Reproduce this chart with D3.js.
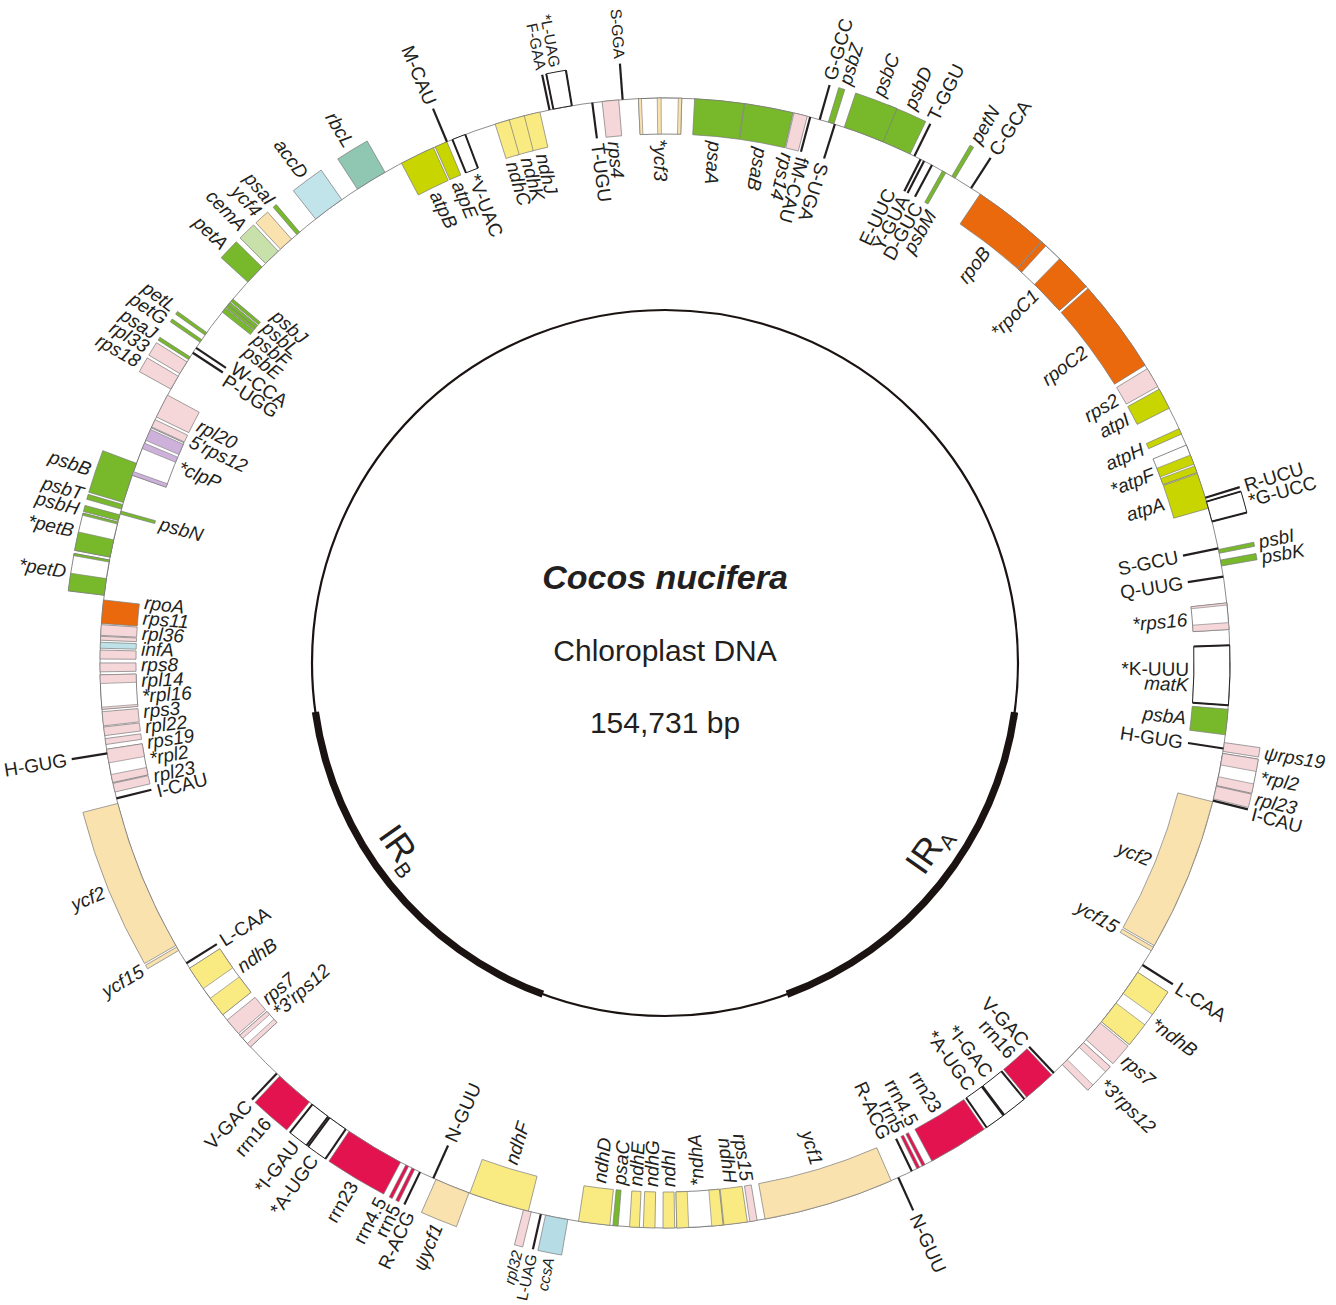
<!DOCTYPE html>
<html>
<head>
<meta charset="utf-8">
<script src="https://cdn.jsdelivr.net/npm/d3@7"></script>
<style>
  html, body { margin: 0; padding: 0; background: #ffffff; }
  svg { display: block; }
  text { font-family: "Liberation Sans", Arial, Helvetica, sans-serif; fill: #231f20; }
</style>
</head>
<body>
<svg id="map" width="1336" height="1305"></svg>
<script>
// ---------------------------------------------------------------
// Cocos nucifera chloroplast genome (154,731 bp), positions in kb
// ---------------------------------------------------------------
const GENOME_KB = 154.731;

const regionNames   = ["LSC", "IRB", "SSC", "IRA"];
const regionLengths = [84.230, 26.555, 17.391, 26.555];

const titleLines = ["Cocos nucifera", "Chloroplast DNA", "154,731 bp"];

// [label, start, end, side ("out" = outer ring, "in" = inner ring), functional group, exons?]
const proteinGenes = [
  ["psbA", 0.30, 1.42, "in", "ps"],
  ["matK", 1.89, 3.44, "in", "rib"],
  ["*rps16", 4.90, 6.06, "in", "rib", [[4.90, 5.20], [5.97, 6.06]]],
  ["psbK", 7.69, 7.95, "out", "ps"],
  ["psbI", 8.25, 8.42, "out", "ps"],
  ["atpA", 10.27, 11.86, "in", "atp"],
  ["*atpF", 11.91, 13.19, "in", "atp", [[11.91, 12.21], [12.29, 12.72]]],
  ["atpH", 13.71, 13.97, "in", "atp"],
  ["atpI", 14.96, 15.90, "in", "atp"],
  ["rps2", 16.03, 16.93, "in", "rib"],
  ["rpoC2", 17.11, 21.28, "in", "rpo"],
  ["*rpoC1", 21.40, 24.15, "in", "rpo", [[21.40, 23.08], [23.90, 24.15]]],
  ["rpoB", 24.18, 27.55, "in", "rpo"],
  ["petN", 28.84, 29.01, "out", "ps"],
  ["psbM", 29.31, 29.48, "in", "ps"],
  ["psbD", 31.07, 32.75, "out", "ps"],
  ["psbC", 32.36, 34.17, "out", "ps"],
  ["psbZ", 34.64, 34.90, "out", "ps"],
  ["rps14", 35.85, 36.45, "in", "rib"],
  ["psaB", 36.49, 38.64, "in", "ps"],
  ["psaA", 38.66, 40.83, "in", "ps"],
  ["*ycf3", 41.39, 43.28, "in", "ycf", [[41.39, 41.54], [42.29, 42.46], [43.15, 43.28]]],
  ["rps4", 44.14, 44.87, "in", "rib"],
  ["ndhJ", 47.62, 48.40, "in", "ndh"],
  ["ndhK", 48.32, 49.12, "in", "ndh"],
  ["ndhC", 49.00, 49.64, "in", "ndh"],
  ["atpE", 51.88, 52.44, "in", "atp"],
  ["atpB", 52.52, 54.07, "in", "atp"],
  ["rbcL", 54.89, 56.30, "out", "rbc"],
  ["accD", 57.12, 58.54, "out", "acc"],
  ["psaI", 59.44, 59.61, "out", "ps"],
  ["ycf4", 59.91, 60.56, "out", "ycf"],
  ["cemA", 60.69, 61.46, "out", "cem"],
  ["petA", 61.68, 62.58, "out", "ps"],
  ["psbJ", 63.57, 63.70, "in", "ps"],
  ["psbL", 63.78, 63.87, "in", "ps"],
  ["psbF", 63.91, 64.04, "in", "ps"],
  ["psbE", 64.08, 64.30, "in", "ps"],
  ["petL", 65.42, 65.55, "out", "ps"],
  ["petG", 65.80, 65.93, "out", "ps"],
  ["psaJ", 66.71, 66.83, "out", "ps"],
  ["rpl33", 66.96, 67.56, "out", "rib"],
  ["rps18", 67.69, 68.34, "out", "rib"],
  ["rpl20", 68.64, 69.71, "in", "rib"],
  ["5'rps12", 69.84, 70.19, "in", "rib"],
  ["*clpP", 70.23, 72.46, "in", "clp", [[70.31, 70.83], [70.96, 71.22], [72.29, 72.46]]],
  ["psbB", 71.91, 73.71, "out", "ps"],
  ["psbT", 73.80, 74.01, "out", "ps"],
  ["psbN", 74.10, 74.23, "in", "ps"],
  ["psbH", 74.27, 74.53, "out", "ps"],
  ["*petB", 74.60, 76.16, "out", "ps", [[74.60, 74.68], [75.39, 76.16]]],
  ["*petD", 76.29, 77.84, "out", "ps", [[76.29, 76.38], [77.11, 77.84]]],
  ["rpoA", 78.05, 79.08, "in", "rpo"],
  ["rps11", 79.13, 79.60, "in", "rib"],
  ["rpl36", 79.64, 79.81, "in", "rib"],
  ["infA", 79.90, 80.16, "in", "inf"],
  ["rps8", 80.24, 80.63, "in", "rib"],
  ["rpl14", 80.80, 81.19, "in", "rib"],
  ["*rpl16", 81.32, 82.82, "in", "rib", [[81.32, 81.70], [82.74, 82.82]]],
  ["rps3", 82.93, 83.55, "in", "rib"],
  ["rpl22", 83.60, 83.98, "in", "rib"],
  ["rps19", 84.11, 84.37, "in", "rib"],
  ["*rpl2", 84.58, 86.05, "in", "rib", [[84.58, 85.18], [85.70, 86.05]]],
  ["rpl23", 86.09, 86.48, "in", "rib"],
  ["ycf2", 86.99, 93.70, "out", "ycf"],
  ["ycf15", 93.78, 93.95, "out", "ycf"],
  ["ndhB", 94.86, 97.35, "in", "ndh", [[94.86, 95.93], [96.45, 97.35]]],
  ["rps7", 97.65, 98.42, "in", "rib"],
  ["*3'rps12", 98.51, 99.20, "in", "rib", [[98.51, 98.70], [99.00, 99.20]]],
  ["ψycf1", 109.21, 110.76, "out", "ycf"],
  ["ndhF", 110.80, 113.47, "in", "ndh"],
  ["rpl32", 113.25, 113.60, "out", "rib"],
  ["ccsA", 114.24, 115.23, "out", "ccs"],
  ["ndhD", 115.70, 117.08, "in", "ndh"],
  ["psaC", 117.21, 117.44, "in", "ps"],
  ["ndhE", 117.94, 118.37, "in", "ndh"],
  ["ndhG", 118.54, 119.05, "in", "ndh"],
  ["ndhI", 119.40, 119.91, "in", "ndh"],
  ["*ndhA", 120.00, 122.02, "in", "ndh", [[120.00, 120.52], [121.53, 122.02]]],
  ["ndhH", 122.06, 123.09, "in", "ndh"],
  ["rps15", 123.20, 123.52, "in", "rib"],
  ["ycf1", 123.87, 129.63, "in", "ycf"],
  ["*3'rps12", 138.70, 140.03, "out", "rib", [[138.70, 139.00], [139.75, 140.03]]],
  ["rps7", 140.20, 141.15, "out", "rib"],
  ["*ndhB", 141.23, 143.90, "out", "ndh", [[141.23, 142.26], [142.78, 143.90]]],
  ["ycf15", 145.01, 145.19, "in", "ycf"],
  ["ycf2", 145.27, 152.06, "in", "ycf"],
  ["rpl23", 152.19, 152.75, "out", "rib"],
  ["*rpl2", 152.79, 154.21, "out", "rib", [[152.79, 153.18], [153.70, 154.21]]],
  ["ψrps19", 154.30, 154.69, "out", "rib"]
];

// ribosomal RNA genes: [label, start, end, side]
const rrnGenes = [
  ["rrn16", 101.00, 102.72, "out"],
  ["rrn23", 104.87, 107.49, "out"],
  ["rrn4.5", 107.75, 107.88, "out"],
  ["rrn5", 108.05, 108.18, "out"],
  ["rrn5", 130.87, 131.00, "in"],
  ["rrn4.5", 131.13, 131.26, "in"],
  ["rrn23", 131.60, 134.27, "in"],
  ["rrn16", 136.59, 138.05, "in"]
];

// transfer RNA genes without introns: [label, position, side]
const tRNAs = [
  ["Q-UUG", 7.22, "in"], ["S-GCU", 8.47, "in"], ["R-UCU", 10.75, "out"],
  ["C-GCA", 28.02, "out"], ["D-GUC", 30.00, "in"], ["Y-GUA", 30.39, "in"],
  ["E-UUC", 30.56, "in"], ["T-GGU", 30.86, "out"], ["S-UGA", 34.60, "in"],
  ["G-GCC", 35.29, "out"], ["fM-CAU", 35.72, "in"], ["S-GGA", 43.97, "out"],
  ["T-UGU", 45.30, "in"], ["F-GAA", 47.19, "out"], ["M-CAU", 51.88, "out"],
  ["W-CCA", 66.23, "in"], ["P-UGG", 66.49, "in"], ["H-GUG", 84.76, "out"],
  ["I-CAU", 86.76, "in"], ["L-CAA", 94.60, "in"], ["V-GAC", 100.83, "out"],
  ["R-ACG", 108.44, "out"], ["N-GUU", 109.08, "in"], ["L-UAG", 114.03, "out"],
  ["N-GUU", 129.97, "out"], ["R-ACG", 130.62, "in"], ["V-GAC", 138.18, "in"],
  ["L-CAA", 144.28, "out"], ["I-CAU", 152.11, "out"], ["H-GUG", 154.43, "in"]
];

// transfer RNA genes with introns: [label, start, end, side]
const splitTRNAs = [
  ["*K-UUU", 1.59, 4.21, "in"],
  ["*G-UCC", 9.67, 10.57, "out"],
  ["*L-UAG", 46.20, 47.02, "out"],
  ["*V-UAC", 51.02, 51.62, "in"],
  ["*I-GAU", 102.89, 103.75, "out"],
  ["*A-UGC", 103.83, 104.70, "out"],
  ["*A-UGC", 134.40, 135.30, "in"],
  ["*I-GAC", 135.34, 136.46, "in"]
];

// ---------------------------------------------------------------
// Styling
// ---------------------------------------------------------------
const groupColors = {
  ps:  "#78b92b",
  atp: "#c8d500",
  ndh: "#faea82",
  rpo: "#ea690c",
  rib: "#f5d6d9",
  ycf: "#f9e2ad",
  rbc: "#8fc7b3",
  acc: "#c1e3ea",
  cem: "#c8e0aa",
  clp: "#cdb1da",
  inf: "#bfe2e8",
  ccs: "#b6dde6",
  rrn: "#e3134f"
};

// outer labels set in a smaller type where they run towards the page edge
const compactLabels = new Set(["rpl32", "L-UAG", "ccsA", "S-GGA", "F-GAA", "*L-UAG"]);

const W = 1336, H = 1305;
const CX = 665, CY = 663;
const R_RING = 565, DEPTH = 36, R_INNER = 353;
const LABEL_GAP = 5, FONT = 19, FONT_SMALL = 15.5;
const ORIGIN_DEG = 98;   // angular position of base 1, genome runs anticlockwise

const svg = d3.select("#map");
svg.append("rect").attr("width", W).attr("height", H).attr("fill", "#fff");
const g = svg.append("g").attr("transform", `translate(${CX},${CY})`);

const rad = d => d * Math.PI / 180;
const deg = r => r * 180 / Math.PI;
const theta = d3.scaleLinear()
  .domain([0, GENOME_KB])
  .range([rad(ORIGIN_DEG), rad(ORIGIN_DEG - 360)]);

const norm = a => ((a % 360) + 360) % 360;

function radii(side) {
  return side === "out" ? [R_RING, R_RING + DEPTH] : [R_RING - DEPTH, R_RING];
}

// keeps very short features visible as thin bars
function span(start, end, minDeg = 0.32) {
  let a0 = theta(start), a1 = theta(end);
  const w = Math.abs(a1 - a0), min = rad(minDeg);
  if (w < min) {
    const m = (a0 + a1) / 2, s = a1 < a0 ? -1 : 1;
    a0 = m - s * min / 2; a1 = m + s * min / 2;
  }
  return [a0, a1];
}

const arcGen = d3.arc();
function boxPath(start, end, side, minDeg) {
  const [r0, r1] = radii(side);
  const [a0, a1] = span(start, end, minDeg);
  return arcGen({ innerRadius: r0, outerRadius: r1, startAngle: a0, endAngle: a1 });
}

// ---------------------------------------------------------------
// Inner circle with the inverted repeats
// ---------------------------------------------------------------
g.append("circle").attr("r", R_INNER)
  .attr("fill", "none").attr("stroke", "#1a1311").attr("stroke-width", 2.2);

const regionStarts = d3.cumsum([0, ...regionLengths.slice(0, -1)]);
const regions = regionNames.map((name, i) => ({
  name, start: regionStarts[i], end: regionStarts[i] + regionLengths[i]
}));

const irArc = d3.arc().innerRadius(R_INNER - 3.6).outerRadius(R_INNER + 3.6);
g.selectAll("path.ir")
  .data(regions.filter(r => r.name.startsWith("IR")))
  .join("path")
  .attr("class", "ir")
  .attr("fill", "#1a1311")
  .attr("d", r => irArc({ startAngle: theta(r.start), endAngle: theta(r.end) }));

regions.filter(r => r.name.startsWith("IR")).forEach(r => {
  const midDeg = deg(theta((r.start + r.end) / 2));
  const a = norm(midDeg + (norm(midDeg) > 180 ? 3.6 : -3.6));
  const [x, y] = d3.pointRadial(rad(a), 322);
  const t = g.append("text")
    .attr("transform", `translate(${x},${y}) rotate(${a - 180})`)
    .attr("text-anchor", "middle")
    .attr("dy", "0.35em")
    .style("font-size", "36px");
  t.append("tspan").text(r.name.slice(0, 2));
  t.append("tspan").text(r.name.slice(2)).style("font-size", "21px").attr("dy", "0.3em");
});

// centre titles
g.append("text").text(titleLines[0])
  .attr("text-anchor", "middle").attr("y", -74)
  .style("font-size", "34px").style("font-weight", "bold").style("font-style", "italic");
g.append("text").text(titleLines[1])
  .attr("text-anchor", "middle").attr("y", -2)
  .style("font-size", "30px");
g.append("text").text(titleLines[2])
  .attr("text-anchor", "middle").attr("y", 70)
  .style("font-size", "30px");

// ---------------------------------------------------------------
// Gene ring
// ---------------------------------------------------------------
g.append("circle").attr("r", R_RING)
  .attr("fill", "none").attr("stroke", "#8c8c8c").attr("stroke-width", 1);

const genes = proteinGenes.map(([label, start, end, side, group, exons]) =>
  ({ label, start, end, side, group, exons }));
const rrns = rrnGenes.map(([label, start, end, side]) =>
  ({ label, start, end, side, group: "rrn" }));

// whole-gene boxes (white where an intron interrupts the coding part)
g.selectAll("path.gene")
  .data([...rrns, ...genes])
  .join("path")
  .attr("class", "gene")
  .attr("d", d => boxPath(d.start, d.end, d.side))
  .attr("fill", d => d.exons ? "#ffffff" : groupColors[d.group])
  .attr("stroke", d => d.exons ? "#555" : "#7a7a7a")
  .attr("stroke-width", 0.7);

// exons of split genes
const exonData = genes.filter(d => d.exons)
  .flatMap(d => d.exons.map(([s, e]) => ({ start: s, end: e, side: d.side, group: d.group })));
g.selectAll("path.exon")
  .data(exonData)
  .join("path")
  .attr("class", "exon")
  .attr("d", d => boxPath(d.start, d.end, d.side, 0.22))
  .attr("fill", d => groupColors[d.group])
  .attr("stroke", "#7a7a7a")
  .attr("stroke-width", 0.6);

// tRNA genes interrupted by an intron: open box with an exon bar at each end
const splitT = splitTRNAs.map(([label, start, end, side]) => ({ label, start, end, side }));
g.selectAll("path.trna-box")
  .data(splitT)
  .join("path")
  .attr("class", "trna-box")
  .attr("d", d => boxPath(d.start, d.end, d.side))
  .attr("fill", "#fff").attr("stroke", "#231f20").attr("stroke-width", 1);

function radialLine(kb, side) {
  const [r0, r1] = radii(side);
  const a = theta(kb);
  const p0 = d3.pointRadial(a, r0), p1 = d3.pointRadial(a, r1);
  return `M${p0[0]},${p0[1]}L${p1[0]},${p1[1]}`;
}

g.selectAll("path.trna-exon")
  .data(splitT.flatMap(d => [{ kb: d.start, side: d.side }, { kb: d.end, side: d.side }]))
  .join("path")
  .attr("class", "trna-exon")
  .attr("d", d => radialLine(d.kb, d.side))
  .attr("stroke", "#231f20").attr("stroke-width", 2);

// single-exon tRNA genes
const singleT = tRNAs.map(([label, pos, side]) => ({ label, start: pos, end: pos, side }));
g.selectAll("path.trna")
  .data(singleT)
  .join("path")
  .attr("class", "trna")
  .attr("d", d => radialLine(d.start, d.side))
  .attr("stroke", "#231f20").attr("stroke-width", 2.2);

// ---------------------------------------------------------------
// Labels: radial text, spread apart where genes crowd together
// ---------------------------------------------------------------
const labelItems = [
  ...genes.map(d => ({ ...d, italic: true })),
  ...rrns.map(d => ({ ...d, italic: false })),
  ...splitT.map(d => ({ ...d, italic: false })),
  ...singleT.map(d => ({ ...d, italic: false }))
].map(d => ({
  label: d.label,
  side: d.side,
  italic: d.italic,
  size: compactLabels.has(d.label) && d.side === "out" ? FONT_SMALL : FONT,
  pos: (d.start + d.end) / 2 * 360 / GENOME_KB   // degrees along the genome
}));

["out", "in"].forEach(side => {
  const items = labelItems.filter(d => d.side === side).sort((a, b) => a.pos - b.pos);
  const r = side === "out" ? R_RING + DEPTH + LABEL_GAP : R_RING - DEPTH - LABEL_GAP;
  for (let it = 0; it < 400; it++) {
    let moved = false;
    for (let i = 0; i < items.length - 1; i++) {
      const need = deg(((items[i].size + items[i + 1].size) / 2 * 0.82) / r);
      const gap = items[i + 1].pos - items[i].pos;
      if (gap < need - 1e-6) {
        const push = (need - gap) / 2;
        items[i].pos -= push;
        items[i + 1].pos += push;
        moved = true;
      }
    }
    if (!moved) break;
  }
  items.forEach(d => { d.r = r; });
});

g.selectAll("text.lbl")
  .data(labelItems)
  .join("text")
  .attr("class", "lbl")
  .text(d => d.label)
  .style("font-size", d => d.size + "px")
  .style("font-style", d => d.italic ? "italic" : "normal")
  .each(function (d) {
    const a = norm(ORIGIN_DEG - d.pos);
    const right = d.side === "out" ? (a >= 5 && a < 180) : (a >= 22 && a < 173);
    const rot = right ? a - 90 : a + 90;
    const anchor = (d.side === "out") === right ? "start" : "end";
    const [x, y] = d3.pointRadial(rad(a), d.r);
    d3.select(this)
      .attr("transform", `translate(${x},${y}) rotate(${rot})`)
      .attr("text-anchor", anchor)
      .attr("dy", "0.35em");
  });
</script>
</body>
</html>
